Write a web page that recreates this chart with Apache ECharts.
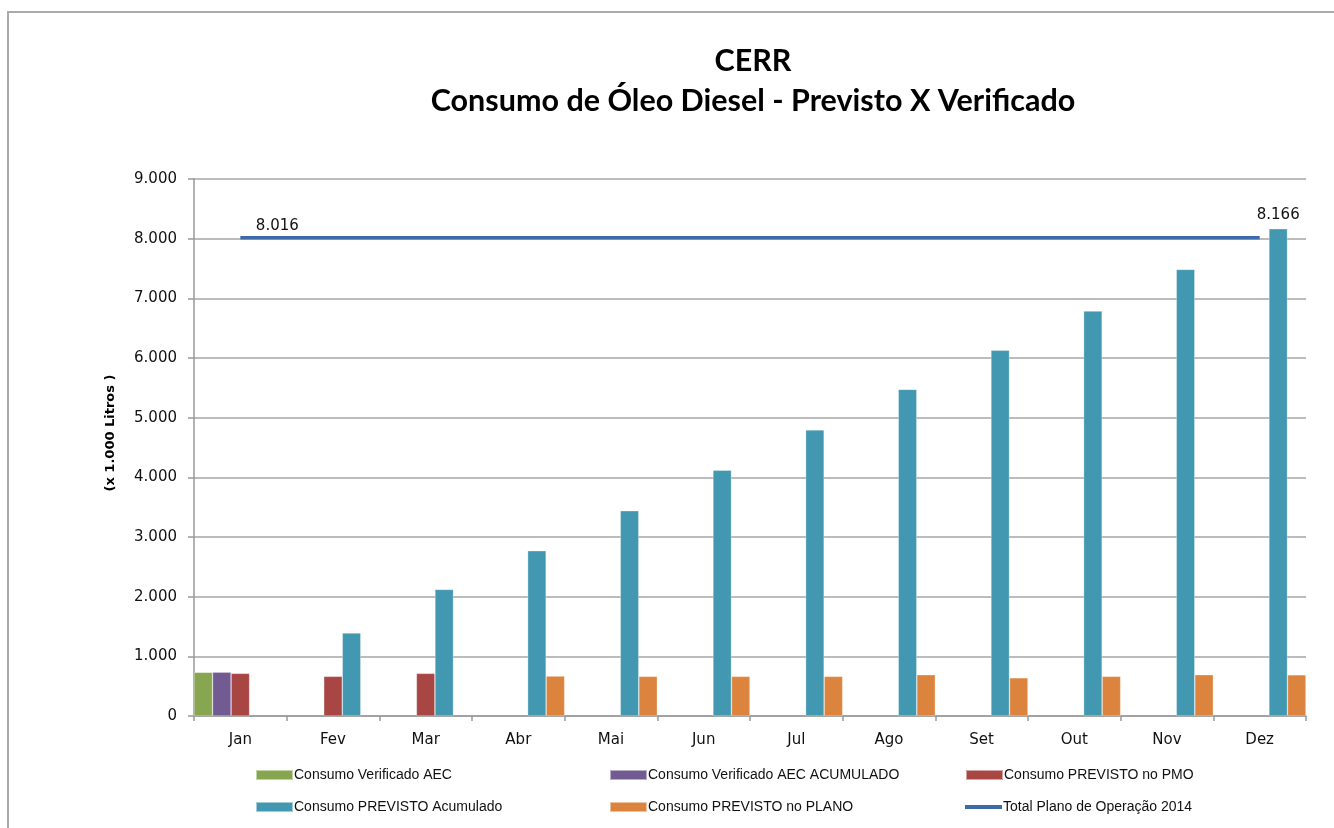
<!DOCTYPE html>
<html>
<head>
<meta charset="utf-8">
<script src="https://cdn.jsdelivr.net/npm/echarts@6/dist/echarts.min.js"></script>
<style>
  html, body { margin: 0; padding: 0; background: #fff; }
  #main { width: 1334px; height: 828px; }
</style>
</head>
<body>
<div id="main"></div>
<script>
// meses e valores (x 1.000 litros)
var meses = ['Jan', 'Fev', 'Mar', 'Abr', 'Mai', 'Jun', 'Jul', 'Ago', 'Set', 'Out', 'Nov', 'Dez'];
var verificadoAEC = [732, null, null, null, null, null, null, null, null, null, null, null];
var verificadoAcum = [735, null, null, null, null, null, null, null, null, null, null, null];
var previstoPMO = [715, 665, 715, null, null, null, null, null, null, null, null, null];
var previstoAcum = [null, 1391, 2123, 2770, 3440, 4120, 4795, 5475, 6129, 6787, 7486, 8166];
var previstoPlano = [null, null, null, 670, 665, 665, 665, 692, 640, 665, 692, 690];
var totalPlano = [8016, 8016, 8016, 8016, 8016, 8016, 8016, 8016, 8016, 8016, 8016, 8016];

var nomes = [
    'Consumo Verificado AEC',
    'Consumo Verificado AEC ACUMULADO',
    'Consumo PREVISTO no PMO',
    'Consumo PREVISTO Acumulado',
    'Consumo PREVISTO no PLANO',
    'Total Plano de Operação 2014'
];
var cores = ['#88a550', '#725a93', '#a84644', '#4298b0', '#dc843e', '#3f6aaa'];

function milhar(v) {
    return String(v).replace(/\B(?=(\d{3})+(?!\d))/g, '.');
}

var myChart = echarts.init(document.getElementById('main'));

// legenda em 3 colunas x 2 linhas
var legPos = [[250, 763], [604, 763], [960, 763], [250, 795], [604, 795], [960, 795]];
var legends = [];
for (var i = 0; i < nomes.length; i++) {
    legends.push({
        data: [nomes[i]],
        left: legPos[i][0],
        top: legPos[i][1],
        itemWidth: 37,
        itemHeight: i == 5 ? 4 : 10,
        icon: 'rect',
        selectedMode: false,
        textStyle: { fontFamily: 'Liberation Sans', fontSize: 14, color: '#111', padding: [0, 0, 0, -4] }
    });
}

var barBase = {
    type: 'bar',
    barGap: '0%',
    barCategoryGap: '0%',
    itemStyle: { borderColor: 'rgba(255,255,255,0.5)', borderWidth: 0.6 }
};

var series = [];
var barras = [verificadoAEC, verificadoAcum, previstoPMO, previstoAcum, previstoPlano];
for (var j = 0; j < barras.length; j++) {
    var s = Object.assign({}, barBase, {
        name: nomes[j],
        data: barras[j].slice(),
        itemStyle: Object.assign({}, barBase.itemStyle, { color: cores[j] })
    });
    series.push(s);
}
// rotulo so no ultimo acumulado
var ult = previstoAcum.length - 1;
series[3].data[ult] = {
    value: previstoAcum[ult],
    label: {
        show: true, position: 'top', distance: 6,
        formatter: function (p) { return milhar(p.value); },
        fontFamily: 'DejaVu Sans', fontSize: 15, color: '#111'
    }
};

var linhaData = totalPlano.slice();
linhaData[0] = {
    value: totalPlano[0],
    label: {
        show: true, position: 'top', offset: [37, 0], distance: 4,
        formatter: function (p) { return milhar(p.value); },
        fontFamily: 'DejaVu Sans', fontSize: 15, color: '#111'
    }
};
series.push({
    name: nomes[5],
    type: 'line',
    data: linhaData,
    symbol: 'circle',
    symbolSize: 0.1,
    showSymbol: true,
    lineStyle: { color: cores[5], width: 3.5 },
    itemStyle: { color: cores[5] },
    z: 5
});

option = {
    backgroundColor: '#fff',
    animation: false,
    title: {
        text: 'CERR\nConsumo de Óleo Diesel - Previsto X Verificado',
        left: 748,
        top: 36,
        textAlign: 'center',
        textStyle: {
            fontFamily: 'Lato',
            fontWeight: 'bold',
            fontSize: 30.5,
            lineHeight: 40,
            color: '#000'
        }
    },
    legend: legends,
    graphic: [{
        type: 'rect',
        shape: { x: 8, y: 12, width: 1400, height: 900 },
        style: { fill: 'none', stroke: '#aaa', lineWidth: 2 },
        silent: true
    }, {
        type: 'text',
        x: 111,
        y: 433,
        rotation: Math.PI / 2,
        silent: true,
        style: {
            text: '(x 1.000 Litros )',
            align: 'center',
            verticalAlign: 'middle',
            font: 'bold 13px "DejaVu Sans"',
            fill: '#000'
        }
    }],
    grid: {
        left: 194,
        right: 28,
        top: 179,
        bottom: 112
    },
    xAxis: {
        type: 'category',
        data: meses,
        axisLine: { lineStyle: { color: '#999', width: 1.5 } },
        axisTick: { show: true, length: 5, lineStyle: { color: '#999', width: 1.5 } },
        axisLabel: { fontFamily: 'DejaVu Sans', fontSize: 15, color: '#111', margin: 17 }
    },
    yAxis: {
        type: 'value',
        min: 0,
        max: 9000,
        interval: 1000,
        axisLine: { show: true, lineStyle: { color: '#999', width: 1.5 } },
        axisTick: { show: true, length: 6, lineStyle: { color: '#999', width: 1.5 } },
        splitLine: { lineStyle: { color: '#a6a6a6', width: 1.5 } },
        axisLabel: {
            fontFamily: 'DejaVu Sans', fontSize: 15, color: '#111', margin: 17,
            formatter: function (v) { return milhar(v); }
        }
    },
    series: series
};
myChart.setOption(option);
</script>
</body>
</html>
